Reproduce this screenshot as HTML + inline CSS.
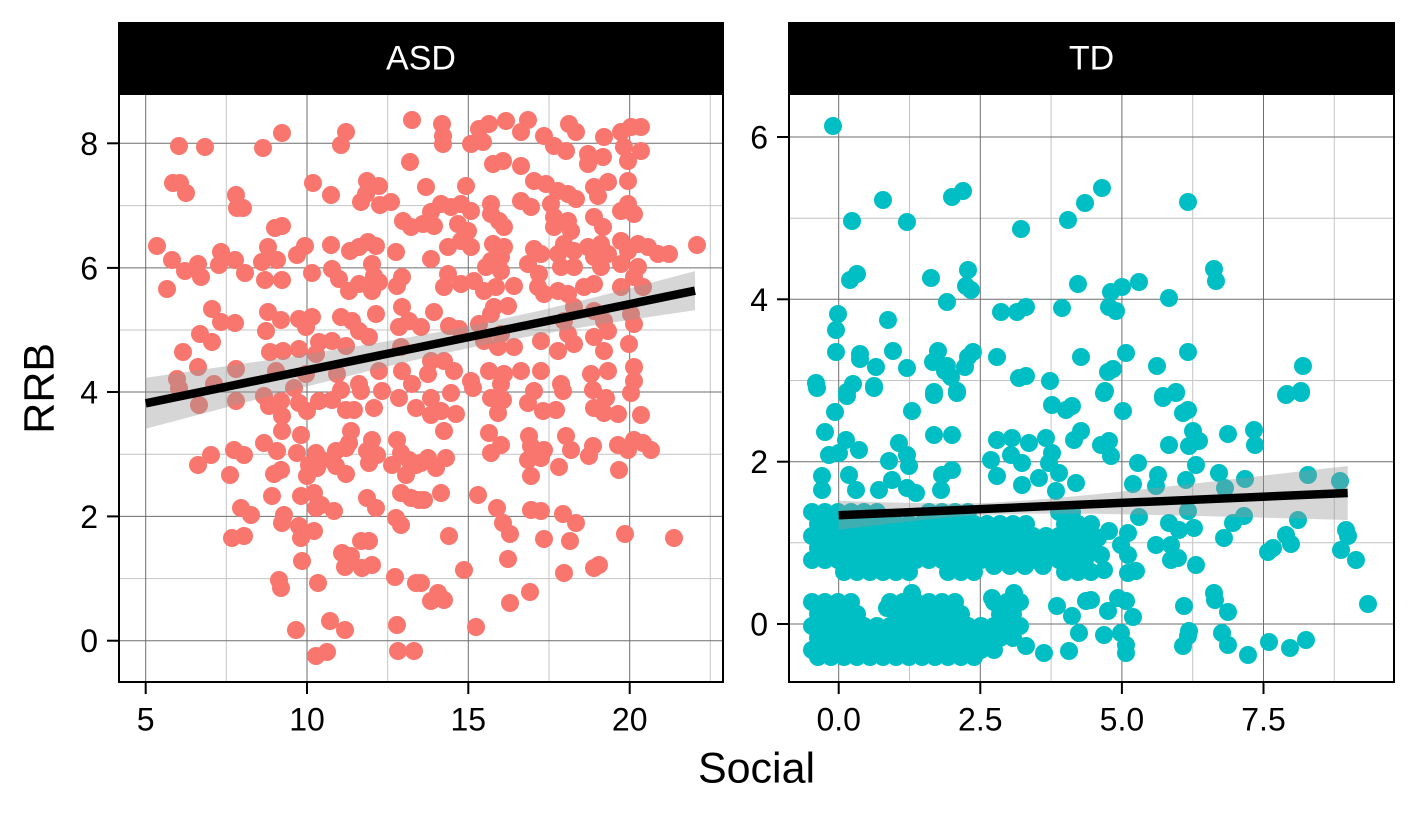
<!DOCTYPE html>
<html><head><meta charset="utf-8"><style>html,body{margin:0;padding:0;background:#fff}svg{display:block}</style></head>
<body>
<svg width="1418" height="815" viewBox="0 0 1418 815" xmlns="http://www.w3.org/2000/svg" font-family="'Liberation Sans', Arial, sans-serif">
<defs>
<clipPath id="ca"><rect x="119" y="94" width="604" height="588"/></clipPath>
<clipPath id="ct"><rect x="789" y="94" width="605" height="588"/></clipPath>
</defs>
<rect width="1418" height="815" fill="#fff"/>

<!-- ASD panel grid -->
<g clip-path="url(#ca)">
<g stroke="#c4c4c4" stroke-width="1">
<line x1="226.3" y1="94" x2="226.3" y2="682"/><line x1="387.7" y1="94" x2="387.7" y2="682"/><line x1="549" y1="94" x2="549" y2="682"/><line x1="710.3" y1="94" x2="710.3" y2="682"/>
<line x1="119" y1="578.6" x2="723" y2="578.6"/><line x1="119" y1="454.2" x2="723" y2="454.2"/><line x1="119" y1="330" x2="723" y2="330"/><line x1="119" y1="205.6" x2="723" y2="205.6"/>
</g>
<g stroke="#6e6e6e" stroke-width="1">
<line x1="145.7" y1="94" x2="145.7" y2="682"/><line x1="307" y1="94" x2="307" y2="682"/><line x1="468.3" y1="94" x2="468.3" y2="682"/><line x1="629.7" y1="94" x2="629.7" y2="682"/>
<line x1="119" y1="640.7" x2="723" y2="640.7"/><line x1="119" y1="516.4" x2="723" y2="516.4"/><line x1="119" y1="392" x2="723" y2="392"/><line x1="119" y1="267.9" x2="723" y2="267.9"/><line x1="119" y1="143.3" x2="723" y2="143.3"/>
</g>
<g fill="#F8766D">
<circle cx="412" cy="120" r="9"/><circle cx="282" cy="133" r="9"/><circle cx="346" cy="132" r="9"/><circle cx="341" cy="145" r="9"/><circle cx="179" cy="146" r="9"/><circle cx="205" cy="147" r="9"/><circle cx="263" cy="148" r="9"/><circle cx="410" cy="162" r="9"/><circle cx="173" cy="183" r="9"/><circle cx="180" cy="183" r="9"/><circle cx="186" cy="193" r="9"/><circle cx="313" cy="183" r="9"/><circle cx="331" cy="195" r="9"/><circle cx="367" cy="181" r="9"/><circle cx="379" cy="186" r="9"/><circle cx="366" cy="194" r="9"/><circle cx="361" cy="202" r="9"/><circle cx="380" cy="205" r="9"/><circle cx="391" cy="202" r="9"/><circle cx="236" cy="195" r="9"/><circle cx="237" cy="208" r="9"/><circle cx="243" cy="208" r="9"/><circle cx="403" cy="221" r="9"/><circle cx="411" cy="227" r="9"/><circle cx="275" cy="228" r="9"/><circle cx="282" cy="226" r="9"/><circle cx="157" cy="246" r="9"/><circle cx="172" cy="260" r="9"/><circle cx="185" cy="271" r="9"/><circle cx="198" cy="264" r="9"/><circle cx="201" cy="277" r="9"/><circle cx="221" cy="252" r="9"/><circle cx="219" cy="265" r="9"/><circle cx="235" cy="260" r="9"/><circle cx="245" cy="273" r="9"/><circle cx="268" cy="247" r="9"/><circle cx="262" cy="262" r="9"/><circle cx="277" cy="260" r="9"/><circle cx="265" cy="280" r="9"/><circle cx="282" cy="280" r="9"/><circle cx="297" cy="255" r="9"/><circle cx="305" cy="246" r="9"/><circle cx="312" cy="273" r="9"/><circle cx="331" cy="245" r="9"/><circle cx="350" cy="251" r="9"/><circle cx="359" cy="247" r="9"/><circle cx="368" cy="242" r="9"/><circle cx="376" cy="246" r="9"/><circle cx="396" cy="252" r="9"/><circle cx="332" cy="269" r="9"/><circle cx="339" cy="279" r="9"/><circle cx="349" cy="291" r="9"/><circle cx="359" cy="284" r="9"/><circle cx="372" cy="264" r="9"/><circle cx="374" cy="276" r="9"/><circle cx="372" cy="291" r="9"/><circle cx="379" cy="282" r="9"/><circle cx="402" cy="277" r="9"/><circle cx="397" cy="286" r="9"/><circle cx="167" cy="289" r="9"/><circle cx="212" cy="309" r="9"/><circle cx="221" cy="322" r="9"/><circle cx="235" cy="323" r="9"/><circle cx="200" cy="334" r="9"/><circle cx="212" cy="342" r="9"/><circle cx="268" cy="312" r="9"/><circle cx="281" cy="320" r="9"/><circle cx="266" cy="331" r="9"/><circle cx="299" cy="319" r="9"/><circle cx="312" cy="317" r="9"/><circle cx="306" cy="327" r="9"/><circle cx="341" cy="317" r="9"/><circle cx="352" cy="321" r="9"/><circle cx="359" cy="331" r="9"/><circle cx="376" cy="314" r="9"/><circle cx="402" cy="307" r="9"/><circle cx="399" cy="327" r="9"/><circle cx="409" cy="321" r="9"/><circle cx="183" cy="352" r="9"/><circle cx="198" cy="367" r="9"/><circle cx="177" cy="379" r="9"/><circle cx="236" cy="369" r="9"/><circle cx="270" cy="352" r="9"/><circle cx="283" cy="351" r="9"/><circle cx="299" cy="349" r="9"/><circle cx="319" cy="342" r="9"/><circle cx="332" cy="341" r="9"/><circle cx="346" cy="346" r="9"/><circle cx="316" cy="354" r="9"/><circle cx="369" cy="337" r="9"/><circle cx="401" cy="347" r="9"/><circle cx="276" cy="371" r="9"/><circle cx="306" cy="374" r="9"/><circle cx="337" cy="374" r="9"/><circle cx="379" cy="371" r="9"/><circle cx="402" cy="371" r="9"/><circle cx="214" cy="384" r="9"/><circle cx="359" cy="384" r="9"/><circle cx="412" cy="384" r="9"/>
<circle cx="442" cy="124" r="9"/><circle cx="443" cy="136" r="9"/><circle cx="443" cy="144" r="9"/><circle cx="479" cy="129" r="9"/><circle cx="489" cy="124" r="9"/><circle cx="506" cy="121" r="9"/><circle cx="528" cy="120" r="9"/><circle cx="521" cy="132" r="9"/><circle cx="471" cy="144" r="9"/><circle cx="483" cy="142" r="9"/><circle cx="544" cy="136" r="9"/><circle cx="554" cy="146" r="9"/><circle cx="566" cy="151" r="9"/><circle cx="569" cy="124" r="9"/><circle cx="576" cy="132" r="9"/><circle cx="588" cy="154" r="9"/><circle cx="588" cy="164" r="9"/><circle cx="603" cy="157" r="9"/><circle cx="604" cy="137" r="9"/><circle cx="621" cy="132" r="9"/><circle cx="631" cy="127" r="9"/><circle cx="641" cy="127" r="9"/><circle cx="624" cy="147" r="9"/><circle cx="641" cy="151" r="9"/><circle cx="628" cy="161" r="9"/><circle cx="493" cy="164" r="9"/><circle cx="503" cy="161" r="9"/><circle cx="521" cy="166" r="9"/><circle cx="426" cy="187" r="9"/><circle cx="466" cy="186" r="9"/><circle cx="534" cy="181" r="9"/><circle cx="546" cy="184" r="9"/><circle cx="594" cy="187" r="9"/><circle cx="608" cy="182" r="9"/><circle cx="628" cy="181" r="9"/><circle cx="598" cy="196" r="9"/><circle cx="521" cy="201" r="9"/><circle cx="531" cy="207" r="9"/><circle cx="558" cy="191" r="9"/><circle cx="568" cy="194" r="9"/><circle cx="576" cy="199" r="9"/><circle cx="551" cy="204" r="9"/><circle cx="491" cy="204" r="9"/><circle cx="441" cy="204" r="9"/><circle cx="451" cy="207" r="9"/><circle cx="461" cy="204" r="9"/><circle cx="471" cy="211" r="9"/><circle cx="431" cy="212" r="9"/><circle cx="423" cy="224" r="9"/><circle cx="434" cy="226" r="9"/><circle cx="458" cy="224" r="9"/><circle cx="468" cy="231" r="9"/><circle cx="491" cy="214" r="9"/><circle cx="499" cy="221" r="9"/><circle cx="504" cy="227" r="9"/><circle cx="554" cy="217" r="9"/><circle cx="554" cy="227" r="9"/><circle cx="568" cy="221" r="9"/><circle cx="571" cy="231" r="9"/><circle cx="594" cy="217" r="9"/><circle cx="603" cy="227" r="9"/><circle cx="621" cy="211" r="9"/><circle cx="628" cy="204" r="9"/><circle cx="634" cy="214" r="9"/><circle cx="461" cy="241" r="9"/><circle cx="471" cy="247" r="9"/><circle cx="448" cy="247" r="9"/><circle cx="431" cy="259" r="9"/><circle cx="493" cy="244" r="9"/><circle cx="504" cy="247" r="9"/><circle cx="491" cy="261" r="9"/><circle cx="501" cy="257" r="9"/><circle cx="486" cy="267" r="9"/><circle cx="501" cy="271" r="9"/><circle cx="534" cy="249" r="9"/><circle cx="528" cy="264" r="9"/><circle cx="541" cy="254" r="9"/><circle cx="539" cy="274" r="9"/><circle cx="558" cy="254" r="9"/><circle cx="561" cy="267" r="9"/><circle cx="564" cy="244" r="9"/><circle cx="574" cy="251" r="9"/><circle cx="588" cy="247" r="9"/><circle cx="594" cy="257" r="9"/><circle cx="601" cy="244" r="9"/><circle cx="608" cy="254" r="9"/><circle cx="621" cy="241" r="9"/><circle cx="628" cy="251" r="9"/><circle cx="638" cy="244" r="9"/><circle cx="648" cy="247" r="9"/><circle cx="658" cy="254" r="9"/><circle cx="669" cy="254" r="9"/><circle cx="697" cy="245" r="9"/><circle cx="621" cy="264" r="9"/><circle cx="638" cy="267" r="9"/><circle cx="634" cy="277" r="9"/><circle cx="601" cy="267" r="9"/><circle cx="574" cy="267" r="9"/><circle cx="448" cy="274" r="9"/><circle cx="444" cy="287" r="9"/><circle cx="461" cy="284" r="9"/><circle cx="474" cy="281" r="9"/><circle cx="484" cy="291" r="9"/><circle cx="496" cy="287" r="9"/><circle cx="514" cy="286" r="9"/><circle cx="538" cy="287" r="9"/><circle cx="544" cy="294" r="9"/><circle cx="558" cy="291" r="9"/><circle cx="568" cy="294" r="9"/><circle cx="584" cy="287" r="9"/><circle cx="594" cy="284" r="9"/><circle cx="621" cy="287" r="9"/><circle cx="643" cy="287" r="9"/><circle cx="434" cy="312" r="9"/><circle cx="494" cy="307" r="9"/><circle cx="508" cy="306" r="9"/><circle cx="449" cy="326" r="9"/><circle cx="459" cy="329" r="9"/><circle cx="479" cy="324" r="9"/><circle cx="491" cy="314" r="9"/><circle cx="574" cy="307" r="9"/><circle cx="564" cy="321" r="9"/><circle cx="594" cy="311" r="9"/><circle cx="604" cy="321" r="9"/><circle cx="631" cy="314" r="9"/><circle cx="634" cy="324" r="9"/><circle cx="421" cy="327" r="9"/><circle cx="501" cy="334" r="9"/><circle cx="514" cy="347" r="9"/><circle cx="498" cy="347" r="9"/><circle cx="484" cy="341" r="9"/><circle cx="541" cy="341" r="9"/><circle cx="558" cy="351" r="9"/><circle cx="568" cy="334" r="9"/><circle cx="574" cy="344" r="9"/><circle cx="594" cy="337" r="9"/><circle cx="608" cy="331" r="9"/><circle cx="604" cy="351" r="9"/><circle cx="629" cy="344" r="9"/><circle cx="431" cy="361" r="9"/><circle cx="444" cy="361" r="9"/><circle cx="428" cy="374" r="9"/><circle cx="454" cy="371" r="9"/><circle cx="471" cy="381" r="9"/><circle cx="489" cy="371" r="9"/><circle cx="504" cy="374" r="9"/><circle cx="501" cy="384" r="9"/><circle cx="521" cy="371" r="9"/><circle cx="541" cy="371" r="9"/><circle cx="561" cy="384" r="9"/><circle cx="591" cy="374" r="9"/><circle cx="608" cy="371" r="9"/><circle cx="634" cy="367" r="9"/><circle cx="634" cy="381" r="9"/>
<circle cx="199" cy="405" r="9"/><circle cx="236" cy="401" r="9"/><circle cx="264" cy="396" r="9"/><circle cx="269" cy="406" r="9"/><circle cx="281" cy="401" r="9"/><circle cx="282" cy="416" r="9"/><circle cx="299" cy="403" r="9"/><circle cx="307" cy="411" r="9"/><circle cx="319" cy="401" r="9"/><circle cx="332" cy="400" r="9"/><circle cx="346" cy="410" r="9"/><circle cx="354" cy="410" r="9"/><circle cx="374" cy="408" r="9"/><circle cx="361" cy="391" r="9"/><circle cx="382" cy="391" r="9"/><circle cx="399" cy="398" r="9"/><circle cx="416" cy="408" r="9"/><circle cx="341" cy="390" r="9"/><circle cx="294" cy="388" r="9"/><circle cx="179" cy="388" r="9"/><circle cx="282" cy="431" r="9"/><circle cx="301" cy="435" r="9"/><circle cx="264" cy="443" r="9"/><circle cx="277" cy="451" r="9"/><circle cx="297" cy="453" r="9"/><circle cx="316" cy="453" r="9"/><circle cx="322" cy="460" r="9"/><circle cx="336" cy="451" r="9"/><circle cx="349" cy="443" r="9"/><circle cx="351" cy="431" r="9"/><circle cx="346" cy="448" r="9"/><circle cx="372" cy="440" r="9"/><circle cx="367" cy="451" r="9"/><circle cx="377" cy="455" r="9"/><circle cx="369" cy="463" r="9"/><circle cx="397" cy="440" r="9"/><circle cx="401" cy="453" r="9"/><circle cx="392" cy="465" r="9"/><circle cx="409" cy="460" r="9"/><circle cx="416" cy="465" r="9"/><circle cx="406" cy="475" r="9"/><circle cx="211" cy="455" r="9"/><circle cx="198" cy="465" r="9"/><circle cx="234" cy="450" r="9"/><circle cx="244" cy="455" r="9"/><circle cx="230" cy="475" r="9"/><circle cx="281" cy="470" r="9"/><circle cx="274" cy="474" r="9"/><circle cx="307" cy="476" r="9"/><circle cx="317" cy="468" r="9"/><circle cx="309" cy="465" r="9"/><circle cx="336" cy="466" r="9"/><circle cx="346" cy="474" r="9"/><circle cx="272" cy="496" r="9"/><circle cx="301" cy="496" r="9"/><circle cx="314" cy="493" r="9"/><circle cx="316" cy="508" r="9"/><circle cx="334" cy="511" r="9"/><circle cx="321" cy="505" r="9"/><circle cx="367" cy="498" r="9"/><circle cx="376" cy="508" r="9"/><circle cx="401" cy="493" r="9"/><circle cx="411" cy="498" r="9"/><circle cx="419" cy="500" r="9"/><circle cx="241" cy="508" r="9"/><circle cx="251" cy="515" r="9"/><circle cx="284" cy="515" r="9"/><circle cx="282" cy="523" r="9"/><circle cx="299" cy="526" r="9"/><circle cx="301" cy="538" r="9"/><circle cx="314" cy="531" r="9"/><circle cx="396" cy="518" r="9"/><circle cx="401" cy="525" r="9"/><circle cx="232" cy="538" r="9"/><circle cx="244" cy="536" r="9"/><circle cx="361" cy="541" r="9"/><circle cx="369" cy="541" r="9"/><circle cx="342" cy="553" r="9"/><circle cx="351" cy="556" r="9"/><circle cx="345" cy="567" r="9"/><circle cx="362" cy="568" r="9"/><circle cx="372" cy="565" r="9"/><circle cx="302" cy="561" r="9"/><circle cx="279" cy="580" r="9"/><circle cx="281" cy="588" r="9"/><circle cx="318" cy="583" r="9"/><circle cx="395" cy="577" r="9"/><circle cx="416" cy="583" r="9"/><circle cx="296" cy="630" r="9"/><circle cx="330" cy="621" r="9"/><circle cx="345" cy="630" r="9"/><circle cx="397" cy="625" r="9"/><circle cx="316" cy="656" r="9"/><circle cx="327" cy="652" r="9"/><circle cx="398" cy="651" r="9"/><circle cx="414" cy="651" r="9"/>
<circle cx="431" cy="398" r="9"/><circle cx="451" cy="393" r="9"/><circle cx="473" cy="388" r="9"/><circle cx="491" cy="398" r="9"/><circle cx="503" cy="400" r="9"/><circle cx="498" cy="413" r="9"/><circle cx="528" cy="403" r="9"/><circle cx="534" cy="391" r="9"/><circle cx="543" cy="411" r="9"/><circle cx="556" cy="410" r="9"/><circle cx="563" cy="391" r="9"/><circle cx="593" cy="390" r="9"/><circle cx="594" cy="408" r="9"/><circle cx="604" cy="413" r="9"/><circle cx="618" cy="414" r="9"/><circle cx="606" cy="398" r="9"/><circle cx="631" cy="393" r="9"/><circle cx="641" cy="415" r="9"/><circle cx="431" cy="415" r="9"/><circle cx="441" cy="411" r="9"/><circle cx="456" cy="414" r="9"/><circle cx="444" cy="431" r="9"/><circle cx="489" cy="433" r="9"/><circle cx="501" cy="445" r="9"/><circle cx="491" cy="453" r="9"/><circle cx="529" cy="436" r="9"/><circle cx="531" cy="446" r="9"/><circle cx="544" cy="450" r="9"/><circle cx="528" cy="460" r="9"/><circle cx="541" cy="458" r="9"/><circle cx="531" cy="476" r="9"/><circle cx="559" cy="467" r="9"/><circle cx="566" cy="436" r="9"/><circle cx="571" cy="450" r="9"/><circle cx="593" cy="446" r="9"/><circle cx="589" cy="456" r="9"/><circle cx="618" cy="445" r="9"/><circle cx="634" cy="440" r="9"/><circle cx="643" cy="443" r="9"/><circle cx="651" cy="450" r="9"/><circle cx="628" cy="450" r="9"/><circle cx="619" cy="470" r="9"/><circle cx="428" cy="458" r="9"/><circle cx="446" cy="458" r="9"/><circle cx="436" cy="468" r="9"/><circle cx="421" cy="463" r="9"/><circle cx="424" cy="500" r="9"/><circle cx="441" cy="493" r="9"/><circle cx="478" cy="495" r="9"/><circle cx="497" cy="508" r="9"/><circle cx="503" cy="523" r="9"/><circle cx="510" cy="534" r="9"/><circle cx="531" cy="510" r="9"/><circle cx="541" cy="511" r="9"/><circle cx="563" cy="514" r="9"/><circle cx="576" cy="523" r="9"/><circle cx="544" cy="539" r="9"/><circle cx="570" cy="541" r="9"/><circle cx="449" cy="536" r="9"/><circle cx="625" cy="534" r="9"/><circle cx="674" cy="538" r="9"/><circle cx="508" cy="559" r="9"/><circle cx="464" cy="570" r="9"/><circle cx="564" cy="573" r="9"/><circle cx="594" cy="568" r="9"/><circle cx="599" cy="565" r="9"/><circle cx="421" cy="583" r="9"/><circle cx="431" cy="601" r="9"/><circle cx="438" cy="593" r="9"/><circle cx="444" cy="600" r="9"/><circle cx="510" cy="603" r="9"/><circle cx="530" cy="592" r="9"/><circle cx="476" cy="627" r="9"/>
</g>
<polygon fill="#999" fill-opacity="0.4" points="145.7,377.8 200,370 260,361.2 320,352.1 380,342.4 440,331.7 480,323.8 540,310.6 600,296 660,280.4 695,271.1 695,310.3 660,315.4 600,324.4 540,334.4 480,345.8 440,354.3 380,368.2 320,383.1 260,398.6 200,414.4 145.7,428.8"/>
<line x1="145.7" y1="403.3" x2="695" y2="290.7" stroke="#000" stroke-width="8.5"/>
</g>
<rect x="119" y="94" width="604" height="588" fill="none" stroke="#000" stroke-width="2"/>
<rect x="118" y="22" width="606" height="72" fill="#000"/>
<text x="421" y="69.3" fill="#fff" font-size="34" text-anchor="middle">ASD</text>

<!-- TD panel -->
<g clip-path="url(#ct)">
<g stroke="#c4c4c4" stroke-width="1">
<line x1="909.5" y1="94" x2="909.5" y2="682"/><line x1="1051.1" y1="94" x2="1051.1" y2="682"/><line x1="1192.7" y1="94" x2="1192.7" y2="682"/><line x1="1334.3" y1="94" x2="1334.3" y2="682"/>
<line x1="789" y1="542.8" x2="1394" y2="542.8"/><line x1="789" y1="380.5" x2="1394" y2="380.5"/><line x1="789" y1="218.2" x2="1394" y2="218.2"/>
</g>
<g stroke="#6e6e6e" stroke-width="1">
<line x1="838.7" y1="94" x2="838.7" y2="682"/><line x1="980.3" y1="94" x2="980.3" y2="682"/><line x1="1121.9" y1="94" x2="1121.9" y2="682"/><line x1="1263.5" y1="94" x2="1263.5" y2="682"/>
<line x1="789" y1="624" x2="1394" y2="624"/><line x1="789" y1="461.7" x2="1394" y2="461.7"/><line x1="789" y1="299.3" x2="1394" y2="299.3"/><line x1="789" y1="137" x2="1394" y2="137"/>
</g>
<g fill="#00BFC4">
<circle cx="833" cy="126" r="9"/><circle cx="883" cy="200" r="9"/><circle cx="852" cy="221" r="9"/><circle cx="907" cy="222" r="9"/><circle cx="952" cy="197" r="9"/><circle cx="963" cy="191" r="9"/><circle cx="1021" cy="229" r="9"/><circle cx="1068" cy="220" r="9"/><circle cx="1085" cy="203" r="9"/><circle cx="1102" cy="188" r="9"/><circle cx="1188" cy="202" r="9"/><circle cx="850" cy="280" r="9"/><circle cx="857" cy="274" r="9"/><circle cx="931" cy="278" r="9"/><circle cx="968" cy="270" r="9"/><circle cx="966" cy="286" r="9"/><circle cx="971" cy="290" r="9"/><circle cx="947" cy="302" r="9"/><circle cx="1001" cy="312" r="9"/><circle cx="1017" cy="312" r="9"/><circle cx="1026" cy="307" r="9"/><circle cx="1062" cy="308" r="9"/><circle cx="1078" cy="284" r="9"/><circle cx="1111" cy="292" r="9"/><circle cx="1122" cy="287" r="9"/><circle cx="1139" cy="282" r="9"/><circle cx="1109" cy="307" r="9"/><circle cx="1116" cy="311" r="9"/><circle cx="1169" cy="298" r="9"/><circle cx="1214" cy="269" r="9"/><circle cx="1216" cy="281" r="9"/><circle cx="838" cy="314" r="9"/><circle cx="836" cy="330" r="9"/><circle cx="888" cy="320" r="9"/><circle cx="836" cy="352" r="9"/><circle cx="860" cy="354" r="9"/><circle cx="860" cy="359" r="9"/><circle cx="876" cy="367" r="9"/><circle cx="893" cy="351" r="9"/><circle cx="907" cy="368" r="9"/><circle cx="938" cy="351" r="9"/><circle cx="933" cy="362" r="9"/><circle cx="947" cy="366" r="9"/><circle cx="965" cy="367" r="9"/><circle cx="968" cy="357" r="9"/><circle cx="973" cy="352" r="9"/><circle cx="951" cy="377" r="9"/><circle cx="945" cy="371" r="9"/><circle cx="997" cy="357" r="9"/><circle cx="1019" cy="378" r="9"/><circle cx="1026" cy="376" r="9"/><circle cx="1050" cy="381" r="9"/><circle cx="1081" cy="357" r="9"/><circle cx="1126" cy="353" r="9"/><circle cx="1108" cy="372" r="9"/><circle cx="1113" cy="369" r="9"/><circle cx="1157" cy="366" r="9"/><circle cx="1188" cy="352" r="9"/><circle cx="1303" cy="366" r="9"/><circle cx="816" cy="383" r="9"/><circle cx="853" cy="384" r="9"/><circle cx="874" cy="386" r="9"/><circle cx="847" cy="392" r="9"/><circle cx="934" cy="392" r="9"/><circle cx="957" cy="391" r="9"/><circle cx="1105" cy="391" r="9"/><circle cx="1163" cy="396" r="9"/><circle cx="1176" cy="392" r="9"/><circle cx="1287" cy="394" r="9"/><circle cx="1301" cy="391" r="9"/>
<circle cx="817" cy="388" r="9"/><circle cx="847" cy="396" r="9"/><circle cx="874" cy="388" r="9"/><circle cx="934" cy="395" r="9"/><circle cx="957" cy="393" r="9"/><circle cx="835" cy="412" r="9"/><circle cx="912" cy="411" r="9"/><circle cx="825" cy="432" r="9"/><circle cx="846" cy="440" r="9"/><circle cx="859" cy="450" r="9"/><circle cx="829" cy="455" r="9"/><circle cx="839" cy="453" r="9"/><circle cx="899" cy="443" r="9"/><circle cx="907" cy="455" r="9"/><circle cx="889" cy="461" r="9"/><circle cx="909" cy="466" r="9"/><circle cx="934" cy="435" r="9"/><circle cx="952" cy="435" r="9"/><circle cx="822" cy="476" r="9"/><circle cx="822" cy="490" r="9"/><circle cx="849" cy="475" r="9"/><circle cx="856" cy="490" r="9"/><circle cx="879" cy="490" r="9"/><circle cx="892" cy="480" r="9"/><circle cx="907" cy="488" r="9"/><circle cx="916" cy="493" r="9"/><circle cx="942" cy="475" r="9"/><circle cx="952" cy="470" r="9"/><circle cx="941" cy="490" r="9"/><circle cx="997" cy="440" r="9"/><circle cx="1012" cy="438" r="9"/><circle cx="1029" cy="443" r="9"/><circle cx="1046" cy="438" r="9"/><circle cx="991" cy="460" r="9"/><circle cx="1011" cy="455" r="9"/><circle cx="1022" cy="463" r="9"/><circle cx="997" cy="476" r="9"/><circle cx="1052" cy="453" r="9"/><circle cx="1049" cy="463" r="9"/><circle cx="1059" cy="473" r="9"/><circle cx="1022" cy="485" r="9"/><circle cx="1039" cy="478" r="9"/><circle cx="1056" cy="491" r="9"/><circle cx="1076" cy="483" r="9"/><circle cx="1074" cy="440" r="9"/><circle cx="1081" cy="431" r="9"/><circle cx="1052" cy="405" r="9"/><circle cx="1066" cy="410" r="9"/><circle cx="1072" cy="406" r="9"/>
<circle cx="1026" cy="646" r="9"/><circle cx="1044" cy="653" r="9"/><circle cx="1069" cy="651" r="9"/><circle cx="1057" cy="606" r="9"/><circle cx="1072" cy="616" r="9"/><circle cx="1079" cy="633" r="9"/><circle cx="1086" cy="601" r="9"/><circle cx="1014" cy="593" r="9"/><circle cx="992" cy="598" r="9"/><circle cx="887" cy="608" r="9"/><circle cx="912" cy="593" r="9"/>
<circle cx="1104" cy="393" r="9"/><circle cx="1123" cy="411" r="9"/><circle cx="1163" cy="398" r="9"/><circle cx="1176" cy="393" r="9"/><circle cx="1183" cy="413" r="9"/><circle cx="1188" cy="410" r="9"/><circle cx="1286" cy="395" r="9"/><circle cx="1301" cy="393" r="9"/><circle cx="1101" cy="445" r="9"/><circle cx="1109" cy="441" r="9"/><circle cx="1111" cy="456" r="9"/><circle cx="1169" cy="445" r="9"/><circle cx="1189" cy="446" r="9"/><circle cx="1193" cy="431" r="9"/><circle cx="1199" cy="441" r="9"/><circle cx="1228" cy="434" r="9"/><circle cx="1254" cy="430" r="9"/><circle cx="1255" cy="445" r="9"/><circle cx="1138" cy="463" r="9"/><circle cx="1133" cy="484" r="9"/><circle cx="1156" cy="486" r="9"/><circle cx="1158" cy="475" r="9"/><circle cx="1186" cy="480" r="9"/><circle cx="1196" cy="465" r="9"/><circle cx="1219" cy="473" r="9"/><circle cx="1225" cy="488" r="9"/><circle cx="1245" cy="479" r="9"/><circle cx="1308" cy="475" r="9"/><circle cx="1340" cy="481" r="9"/><circle cx="1139" cy="517" r="9"/><circle cx="1188" cy="511" r="9"/><circle cx="1169" cy="523" r="9"/><circle cx="1179" cy="530" r="9"/><circle cx="1194" cy="528" r="9"/><circle cx="1233" cy="523" r="9"/><circle cx="1244" cy="516" r="9"/><circle cx="1224" cy="538" r="9"/><circle cx="1298" cy="520" r="9"/><circle cx="1286" cy="535" r="9"/><circle cx="1291" cy="544" r="9"/><circle cx="1273" cy="548" r="9"/><circle cx="1268" cy="552" r="9"/><circle cx="1346" cy="530" r="9"/><circle cx="1348" cy="536" r="9"/><circle cx="1341" cy="550" r="9"/><circle cx="1356" cy="560" r="9"/><circle cx="1098" cy="538" r="9"/><circle cx="1109" cy="531" r="9"/><circle cx="1128" cy="533" r="9"/><circle cx="1101" cy="555" r="9"/><circle cx="1104" cy="570" r="9"/><circle cx="1121" cy="545" r="9"/><circle cx="1128" cy="555" r="9"/><circle cx="1128" cy="573" r="9"/><circle cx="1136" cy="571" r="9"/><circle cx="1156" cy="545" r="9"/><circle cx="1171" cy="545" r="9"/><circle cx="1171" cy="560" r="9"/><circle cx="1178" cy="558" r="9"/><circle cx="1196" cy="565" r="9"/><circle cx="1214" cy="593" r="9"/><circle cx="1215" cy="600" r="9"/><circle cx="1228" cy="612" r="9"/><circle cx="1184" cy="606" r="9"/><circle cx="1118" cy="598" r="9"/><circle cx="1126" cy="601" r="9"/><circle cx="1108" cy="611" r="9"/><circle cx="1133" cy="617" r="9"/><circle cx="1091" cy="600" r="9"/><circle cx="1368" cy="604" r="9"/><circle cx="1104" cy="635" r="9"/><circle cx="1121" cy="633" r="9"/><circle cx="1126" cy="645" r="9"/><circle cx="1126" cy="653" r="9"/><circle cx="1183" cy="646" r="9"/><circle cx="1188" cy="636" r="9"/><circle cx="1189" cy="631" r="9"/><circle cx="1222" cy="633" r="9"/><circle cx="1228" cy="645" r="9"/><circle cx="1248" cy="655" r="9"/><circle cx="1269" cy="642" r="9"/><circle cx="1290" cy="648" r="9"/><circle cx="1306" cy="640" r="9"/>
<!-- band A -->
<circle cx="812" cy="512" r="9"/><circle cx="825" cy="512" r="9"/><circle cx="838" cy="512" r="9"/><circle cx="851" cy="512" r="9"/><circle cx="864" cy="512" r="9"/><circle cx="877" cy="512" r="9"/><circle cx="929" cy="512" r="9"/><circle cx="942" cy="512" r="9"/><circle cx="955" cy="512" r="9"/><circle cx="968" cy="512" r="9"/><circle cx="1059" cy="512" r="9"/><circle cx="1072" cy="512" r="9"/>
<circle cx="818" cy="524" r="9"/><circle cx="831" cy="524" r="9"/><circle cx="844" cy="524" r="9"/><circle cx="857" cy="524" r="9"/><circle cx="870" cy="524" r="9"/><circle cx="883" cy="524" r="9"/><circle cx="896" cy="524" r="9"/><circle cx="909" cy="524" r="9"/><circle cx="922" cy="524" r="9"/><circle cx="935" cy="524" r="9"/><circle cx="948" cy="524" r="9"/><circle cx="961" cy="524" r="9"/><circle cx="974" cy="524" r="9"/><circle cx="987" cy="524" r="9"/><circle cx="1000" cy="524" r="9"/><circle cx="1013" cy="524" r="9"/><circle cx="1026" cy="524" r="9"/><circle cx="1065" cy="524" r="9"/><circle cx="1078" cy="524" r="9"/><circle cx="1091" cy="524" r="9"/>
<circle cx="812" cy="536" r="9"/><circle cx="825" cy="536" r="9"/><circle cx="838" cy="536" r="9"/><circle cx="851" cy="536" r="9"/><circle cx="864" cy="536" r="9"/><circle cx="877" cy="536" r="9"/><circle cx="890" cy="536" r="9"/><circle cx="903" cy="536" r="9"/><circle cx="916" cy="536" r="9"/><circle cx="929" cy="536" r="9"/><circle cx="942" cy="536" r="9"/><circle cx="955" cy="536" r="9"/><circle cx="968" cy="536" r="9"/><circle cx="981" cy="536" r="9"/><circle cx="994" cy="536" r="9"/><circle cx="1007" cy="536" r="9"/><circle cx="1020" cy="536" r="9"/><circle cx="1033" cy="536" r="9"/><circle cx="1046" cy="536" r="9"/><circle cx="1059" cy="536" r="9"/><circle cx="1072" cy="536" r="9"/><circle cx="1085" cy="536" r="9"/>
<circle cx="818" cy="548" r="9"/><circle cx="831" cy="548" r="9"/><circle cx="844" cy="548" r="9"/><circle cx="857" cy="548" r="9"/><circle cx="870" cy="548" r="9"/><circle cx="883" cy="548" r="9"/><circle cx="896" cy="548" r="9"/><circle cx="909" cy="548" r="9"/><circle cx="922" cy="548" r="9"/><circle cx="935" cy="548" r="9"/><circle cx="948" cy="548" r="9"/><circle cx="961" cy="548" r="9"/><circle cx="974" cy="548" r="9"/><circle cx="987" cy="548" r="9"/><circle cx="1000" cy="548" r="9"/><circle cx="1013" cy="548" r="9"/><circle cx="1026" cy="548" r="9"/><circle cx="1039" cy="548" r="9"/><circle cx="1052" cy="548" r="9"/><circle cx="1065" cy="548" r="9"/><circle cx="1078" cy="548" r="9"/><circle cx="1091" cy="548" r="9"/>
<circle cx="812" cy="560" r="9"/><circle cx="825" cy="560" r="9"/><circle cx="838" cy="560" r="9"/><circle cx="851" cy="560" r="9"/><circle cx="864" cy="560" r="9"/><circle cx="877" cy="560" r="9"/><circle cx="890" cy="560" r="9"/><circle cx="903" cy="560" r="9"/><circle cx="916" cy="560" r="9"/><circle cx="929" cy="560" r="9"/><circle cx="942" cy="560" r="9"/><circle cx="955" cy="560" r="9"/><circle cx="968" cy="560" r="9"/><circle cx="981" cy="560" r="9"/><circle cx="994" cy="560" r="9"/><circle cx="1007" cy="560" r="9"/><circle cx="1020" cy="560" r="9"/><circle cx="1033" cy="560" r="9"/><circle cx="1046" cy="560" r="9"/><circle cx="1059" cy="560" r="9"/><circle cx="1072" cy="560" r="9"/><circle cx="1085" cy="560" r="9"/>
<circle cx="844" cy="572" r="9"/><circle cx="857" cy="572" r="9"/><circle cx="870" cy="572" r="9"/><circle cx="883" cy="572" r="9"/><circle cx="896" cy="572" r="9"/><circle cx="909" cy="572" r="9"/><circle cx="948" cy="572" r="9"/><circle cx="961" cy="572" r="9"/><circle cx="974" cy="572" r="9"/><circle cx="1065" cy="572" r="9"/><circle cx="1078" cy="572" r="9"/><circle cx="1091" cy="572" r="9"/><circle cx="994" cy="566" r="9"/><circle cx="1010" cy="566" r="9"/><circle cx="1025" cy="566" r="9"/><circle cx="1043" cy="566" r="9"/>
<!-- band B -->
<circle cx="812" cy="602" r="9"/><circle cx="825" cy="602" r="9"/><circle cx="838" cy="602" r="9"/><circle cx="851" cy="602" r="9"/><circle cx="890" cy="602" r="9"/><circle cx="903" cy="602" r="9"/><circle cx="916" cy="602" r="9"/><circle cx="929" cy="602" r="9"/><circle cx="942" cy="602" r="9"/><circle cx="955" cy="602" r="9"/><circle cx="994" cy="602" r="9"/><circle cx="1007" cy="602" r="9"/><circle cx="1020" cy="602" r="9"/>
<circle cx="818" cy="614" r="9"/><circle cx="831" cy="614" r="9"/><circle cx="844" cy="614" r="9"/><circle cx="857" cy="614" r="9"/><circle cx="896" cy="614" r="9"/><circle cx="909" cy="614" r="9"/><circle cx="922" cy="614" r="9"/><circle cx="935" cy="614" r="9"/><circle cx="948" cy="614" r="9"/><circle cx="961" cy="614" r="9"/><circle cx="1000" cy="614" r="9"/><circle cx="1013" cy="614" r="9"/>
<circle cx="812" cy="626" r="9"/><circle cx="825" cy="626" r="9"/><circle cx="838" cy="626" r="9"/><circle cx="851" cy="626" r="9"/><circle cx="864" cy="626" r="9"/><circle cx="877" cy="626" r="9"/><circle cx="890" cy="626" r="9"/><circle cx="903" cy="626" r="9"/><circle cx="916" cy="626" r="9"/><circle cx="929" cy="626" r="9"/><circle cx="942" cy="626" r="9"/><circle cx="955" cy="626" r="9"/><circle cx="968" cy="626" r="9"/><circle cx="981" cy="626" r="9"/><circle cx="994" cy="626" r="9"/><circle cx="1007" cy="626" r="9"/><circle cx="1020" cy="626" r="9"/>
<circle cx="818" cy="638" r="9"/><circle cx="831" cy="638" r="9"/><circle cx="844" cy="638" r="9"/><circle cx="857" cy="638" r="9"/><circle cx="870" cy="638" r="9"/><circle cx="883" cy="638" r="9"/><circle cx="896" cy="638" r="9"/><circle cx="909" cy="638" r="9"/><circle cx="922" cy="638" r="9"/><circle cx="935" cy="638" r="9"/><circle cx="948" cy="638" r="9"/><circle cx="961" cy="638" r="9"/><circle cx="974" cy="638" r="9"/><circle cx="987" cy="638" r="9"/><circle cx="1000" cy="638" r="9"/><circle cx="1013" cy="638" r="9"/>
<circle cx="812" cy="650" r="9"/><circle cx="825" cy="650" r="9"/><circle cx="838" cy="650" r="9"/><circle cx="851" cy="650" r="9"/><circle cx="864" cy="650" r="9"/><circle cx="877" cy="650" r="9"/><circle cx="890" cy="650" r="9"/><circle cx="903" cy="650" r="9"/><circle cx="916" cy="650" r="9"/><circle cx="929" cy="650" r="9"/><circle cx="942" cy="650" r="9"/><circle cx="955" cy="650" r="9"/><circle cx="968" cy="650" r="9"/><circle cx="981" cy="650" r="9"/><circle cx="994" cy="650" r="9"/>
<circle cx="818" cy="657" r="9"/><circle cx="831" cy="657" r="9"/><circle cx="844" cy="657" r="9"/><circle cx="857" cy="657" r="9"/><circle cx="870" cy="657" r="9"/><circle cx="883" cy="657" r="9"/><circle cx="896" cy="657" r="9"/><circle cx="909" cy="657" r="9"/><circle cx="922" cy="657" r="9"/><circle cx="935" cy="657" r="9"/><circle cx="948" cy="657" r="9"/><circle cx="961" cy="657" r="9"/><circle cx="974" cy="657" r="9"/>
</g>
<polygon fill="#999" fill-opacity="0.4" points="838.7,500.8 880,502.2 920,503.1 960,503.5 990,502.7 1030,500.2 1091,494.7 1150,488.5 1210,481.7 1270,474.9 1347.7,466 1347.7,520 1270,517.9 1210,516.3 1150,514.9 1091,513.7 1030,513.6 990,514.7 960,516.5 920,520.3 880,524.8 838.7,529.8"/>
<line x1="838.7" y1="515.3" x2="1347.7" y2="493" stroke="#000" stroke-width="8.5"/>
</g>
<rect x="789" y="94" width="605" height="588" fill="none" stroke="#000" stroke-width="2"/>
<rect x="788" y="22" width="607" height="72" fill="#000"/>
<text x="1091.5" y="69.3" fill="#fff" font-size="34" text-anchor="middle">TD</text>

<!-- ticks -->
<g stroke="#000" stroke-width="2">
<line x1="107" y1="640.7" x2="119" y2="640.7"/><line x1="107" y1="516.4" x2="119" y2="516.4"/><line x1="107" y1="392" x2="119" y2="392"/><line x1="107" y1="267.9" x2="119" y2="267.9"/><line x1="107" y1="143.3" x2="119" y2="143.3"/>
<line x1="145.7" y1="682" x2="145.7" y2="694"/><line x1="307" y1="682" x2="307" y2="694"/><line x1="468.3" y1="682" x2="468.3" y2="694"/><line x1="629.7" y1="682" x2="629.7" y2="694"/>
<line x1="777" y1="624" x2="789" y2="624"/><line x1="777" y1="461.7" x2="789" y2="461.7"/><line x1="777" y1="299.3" x2="789" y2="299.3"/><line x1="777" y1="137" x2="789" y2="137"/>
<line x1="838.7" y1="682" x2="838.7" y2="694"/><line x1="980.3" y1="682" x2="980.3" y2="694"/><line x1="1121.9" y1="682" x2="1121.9" y2="694"/><line x1="1263.5" y1="682" x2="1263.5" y2="694"/>
</g>
<g font-size="32" fill="#000">
<g text-anchor="end">
<text x="98" y="652.2">0</text><text x="98" y="527.9">2</text><text x="98" y="403.5">4</text><text x="98" y="279.4">6</text><text x="98" y="154.8">8</text>
<text x="768" y="635.5">0</text><text x="768" y="473.2">2</text><text x="768" y="310.8">4</text><text x="768" y="148.5">6</text>
</g>
<g text-anchor="middle">
<text x="145.7" y="730.7">5</text><text x="307" y="730.7">10</text><text x="468.3" y="730.7">15</text><text x="629.7" y="730.7">20</text>
<text x="838.7" y="730.7">0.0</text><text x="980.3" y="730.7">2.5</text><text x="1121.9" y="730.7">5.0</text><text x="1263.5" y="730.7">7.5</text>
</g>
</g>
<text x="756.5" y="782.7" font-size="43" text-anchor="middle" fill="#000">Social</text>
<text transform="translate(53.3,388.3) rotate(-90)" font-size="43" text-anchor="middle" fill="#000">RRB</text>
</svg>
</body></html>
